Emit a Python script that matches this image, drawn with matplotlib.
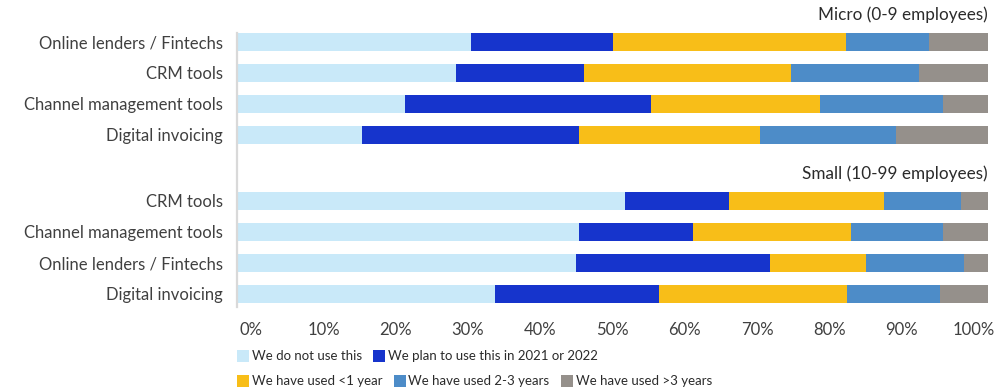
import matplotlib
matplotlib.use("Agg")
import matplotlib.pyplot as plt
import numpy as np
from matplotlib.patches import Rectangle

# Share of firms (%) by adoption stage, per tool, for each firm size
micro_categories = ["Online lenders / Fintechs", "CRM tools",
                    "Channel management tools", "Digital invoicing"]
micro_not_use = [31.2, 29.2, 22.4, 16.6]
micro_plan = [18.9, 17.0, 32.7, 28.9]
micro_lt1 = [31.0, 27.6, 22.5, 24.1]
micro_2_3 = [11.0, 17.0, 16.4, 18.1]
micro_gt3 = [7.9, 9.2, 6.0, 12.3]

small_categories = ["CRM tools", "Channel management tools",
                    "Online lenders / Fintechs", "Digital invoicing"]
small_not_use = [51.7, 45.5, 45.1, 34.4]
small_plan = [13.8, 15.2, 25.9, 21.8]
small_lt1 = [20.6, 21.1, 12.8, 25.0]
small_2_3 = [10.3, 12.2, 13.0, 12.4]
small_gt3 = [3.6, 6.0, 3.2, 6.4]

group_titles = ["Micro (0-9 employees)", "Small (10-99 employees)"]
stage_labels = ["We do not use this", "We plan to use this in 2021 or 2022",
                "We have used <1 year", "We have used 2-3 years",
                "We have used >3 years"]
tick_labels = [f"{v}%" for v in range(0, 101, 10)]

COLORS = ["#c9e9f9", "#1634cc", "#f8be18", "#4d8cc8", "#95908b"]
INK = "#2b2b2b"
INK_SOFT = "#404040"
FONT = ["Lato", "DejaVu Sans"]

W, H, DPI = 1006, 392, 100
fig = plt.figure(figsize=(W / DPI, H / DPI), dpi=DPI)
fig.patch.set_facecolor("white")

# axes box in pixel terms: bars run 237..988 px, rows 33..307 px
ax = fig.add_axes([237 / W, 1 - 307 / H, 751 / W, 274 / H])

ROW = 1.0
GROUP_GAP = 1.13
BAR_H = 0.58

groups = [
    (micro_categories, [micro_not_use, micro_plan, micro_lt1, micro_2_3, micro_gt3]),
    (small_categories, [small_not_use, small_plan, small_lt1, small_2_3, small_gt3]),
]

ytick_pos, ytick_lab = [], []
start = 0.0
for gi, (cats, series) in enumerate(groups):
    y = start + np.arange(len(cats)) * ROW
    left = np.zeros(len(cats))
    for vals, color in zip(series, COLORS):
        ax.barh(y, vals, left=left, height=BAR_H, color=color, linewidth=0)
        left += np.asarray(vals)
    ax.text(100, start - 0.88, group_titles[gi], ha="right", va="center",
            fontsize=12.3, color=INK, family=FONT, clip_on=False)
    ytick_pos.extend(y)
    ytick_lab.extend(cats)
    start = y[-1] + ROW + GROUP_GAP

ax.set_xlim(0, 100)
ax.set_ylim(8.55, -0.29)
ax.set_yticks(ytick_pos)
ax.set_yticklabels(ytick_lab, family=FONT, fontsize=12, color=INK_SOFT)

# percentage labels sit slightly inside the ends of the axis
inset = 1.9
ax.set_xticks(np.linspace(inset, 100 - inset, len(tick_labels)))
ax.set_xticklabels(tick_labels, family=FONT, fontsize=12, color=INK_SOFT)
ax.tick_params(length=0)
ax.tick_params(axis="x", pad=11)
ax.tick_params(axis="y", pad=10)

for side in ("top", "right", "bottom"):
    ax.spines[side].set_visible(False)
ax.spines["left"].set_color("#d9d9d9")
ax.spines["left"].set_linewidth(1.6)

# two-row legend drawn from squares and labels
fig.canvas.draw()
renderer = fig.canvas.get_renderer()
rows = [[0, 1], [2, 3, 4]]
row_y = [356, 381]
for idxs, yc in zip(rows, row_y):
    x = 237
    for i in idxs:
        fig.patches.append(Rectangle(((x) / W, 1 - (yc + 6) / H), 12 / W, 12 / H,
                                     transform=fig.transFigure, color=COLORS[i],
                                     linewidth=0))
        t = fig.text((x + 15) / W, 1 - yc / H, stage_labels[i], ha="left",
                     va="center", fontsize=9.5, color=INK, family=FONT)
        bb = t.get_window_extent(renderer)
        x = bb.x1 + 11

fig.savefig("out.png", dpi=DPI, facecolor="white")
